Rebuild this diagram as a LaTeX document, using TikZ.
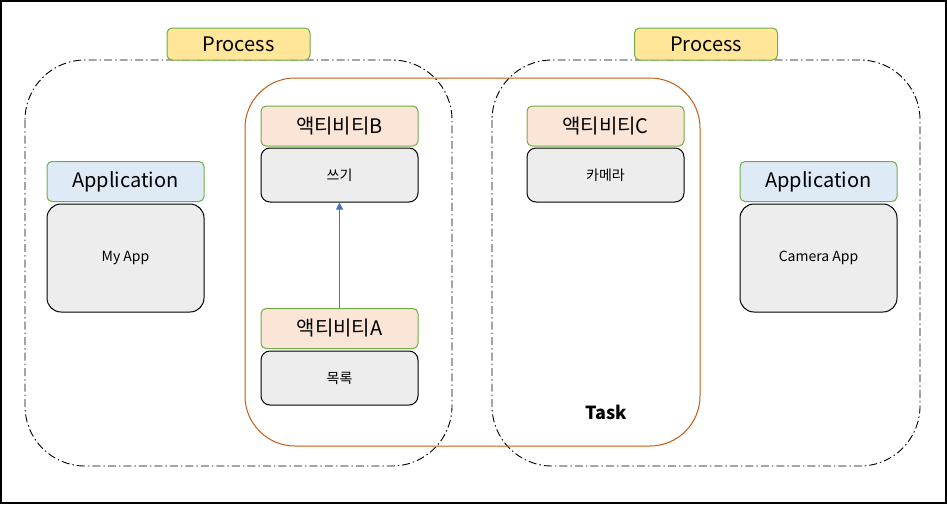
\documentclass[tikz,border=0pt]{standalone}
\usepackage{fontspec}
\setmainfont{Noto Sans CJK KR}
\usetikzlibrary{arrows.meta}

\definecolor{procfill}{HTML}{FFE699}
\definecolor{actfill}{HTML}{FBE5D6}
\definecolor{appfill}{HTML}{DEEBF7}
\definecolor{boxfill}{HTML}{EDEDED}
\definecolor{labline}{HTML}{70AD47}
\definecolor{taskline}{HTML}{C55A11}
\definecolor{arrline}{HTML}{4472C4}

\tikzset{
  label box/.style={draw=labline, line width=1pt, rounded corners=5pt, minimum width=157pt, minimum height=40pt, inner sep=0pt, font=\fontsize{20}{24}\selectfont},
  proc box/.style={label box, fill=procfill, minimum width=143pt, minimum height=32pt},
  act box/.style={label box, fill=actfill},
  app box/.style={label box, fill=appfill},
  body box/.style={draw=black, line width=1pt, fill=boxfill, rounded corners=9pt, minimum width=157pt, minimum height=54pt, inner sep=0pt, font=\fontsize{14}{17}\selectfont},
  proc area/.style={draw=black, line width=0.9pt, dash pattern=on 8pt off 3pt on 1.5pt off 3pt, rounded corners=60pt},
}

\begin{document}
\begin{tikzpicture}[x=1pt, y=-1pt]
    % Frame
    \draw[line width=2pt] (1, 1) rectangle (946, 503);

    % Processes
    \draw[proc area] (25, 60) rectangle (452, 466);
    \draw[proc area] (492, 60) rectangle (920, 466);

    % Task
    \draw[taskline, line width=1pt, rounded corners=50pt] (245, 78) rectangle (700, 446);
    \node[font=\bfseries\fontsize{18}{22}\selectfont] (task) at (606, 412) {Task};

    % Process labels
    \node[proc box] (procL) at (238.5, 44) {Process};
    \node[proc box] (procR) at (706, 44) {Process};

    % Applications
    \node[app box] (appL) at (125.5, 181.5) {Application};
    \node[body box, rounded corners=14pt, minimum height=108pt] (myapp) at (125.5, 258) {My App};
    \node[app box] (appR) at (818.5, 181.5) {Application};
    \node[body box, rounded corners=14pt, minimum height=108pt] (camapp) at (818.5, 258) {Camera App};

    % Activities
    \node[act box] (actB) at (339.5, 126) {액티비티B};
    \node[body box] (write) at (339.5, 175) {쓰기};
    \node[act box] (actA) at (339.5, 328.5) {액티비티A};
    \node[body box] (list) at (339.5, 378) {목록};
    \node[act box] (actC) at (605.5, 126) {액티비티C};
    \node[body box] (camera) at (605.5, 175) {카메라};

    \draw[arrline, line width=1pt, -{Triangle[length=7pt, width=7pt]}] (actA) -- (write);
\end{tikzpicture}
\end{document}
